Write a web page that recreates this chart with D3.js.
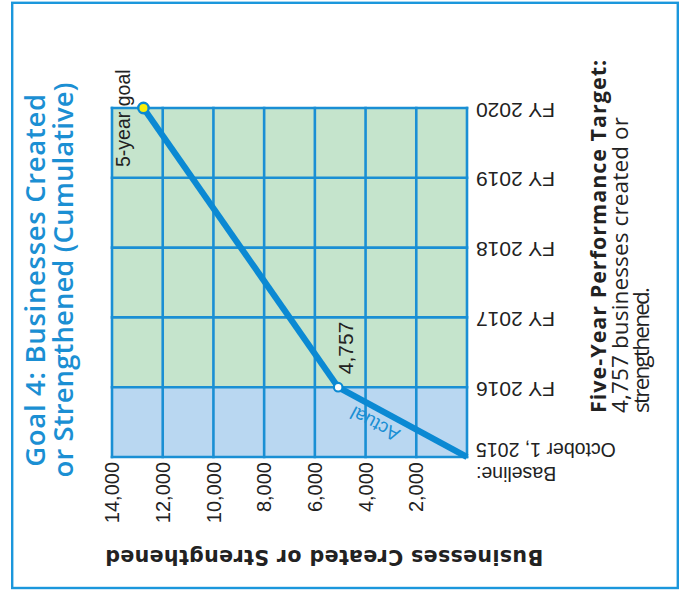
<!DOCTYPE html>
<html>
<head>
<meta charset="utf-8">
<script src="https://cdn.jsdelivr.net/npm/d3@7"></script>
<style>
  html, body { margin: 0; padding: 0; background: #fff; }
  svg { display: block; }
</style>
</head>
<body>
<svg id="chart" width="684" height="590"></svg>
<script>
// ---------------- data ----------------
const periods = ["Baseline", "FY 2016", "FY 2017", "FY 2018", "FY 2019", "FY 2020"];
const periodLabels = ["October 1, 2015", "FY 2016", "FY 2017", "FY 2018", "FY 2019", "FY 2020"];
const baselinePrefix = "Baseline:";
const valueTicks = [2000, 4000, 6000, 8000, 10000, 12000, 14000];
const actualPeriods = ["Baseline", "FY 2016"];
const actualValues = [0, 5080];
const goalPeriods = ["FY 2016", "FY 2020"];
const goalValues = [5080, 12760];
const actualLabel = "4,757";
const goalLabel = "5-year goal";
const titleLines = ["Goal 4: Businesses Created", "or Strengthened (Cumulative)"];
const axisTitle = "Businesses Created or Strengthened";
const targetLines = ["Five-Year Performance Target:", "4,757 businesses created or", "strengthened."];

// ---------------- layout ----------------
const BLUE = "#1a8fd4";
const svg = d3.select("#chart");

const x = d3.scaleLinear().domain([0, 14000]).range([467, 112]);
const y = d3.scalePoint().domain(periods).range([457, 108]);

function fit(sel, target) {
  sel.each(function () {
    const len = this.getComputedTextLength();
    const n = this.textContent.length;
    if (n > 1) d3.select(this).attr("letter-spacing", ((target - len) / (n - 1)).toFixed(2));
  });
}

// outer frame
svg.append("rect")
  .attr("x", 12.2).attr("y", 2.8).attr("width", 665.6).attr("height", 585.2)
  .attr("fill", "none").attr("stroke", "#1b97dc").attr("stroke-width", 2.4);

// row backgrounds
const rows = periods.slice(0, -1).map((p, i) => ({ from: p, to: periods[i + 1], i }));
svg.append("g").selectAll("rect").data(rows).join("rect")
  .attr("x", x(14000)).attr("width", x(0) - x(14000))
  .attr("y", d => y(d.to)).attr("height", d => y(d.from) - y(d.to))
  .attr("fill", d => d.i === 0 ? "#b9d7f1" : "#c5e4cc");

// grid
const grid = svg.append("g").attr("stroke", BLUE).attr("stroke-width", 2.6).attr("fill", "none");
grid.selectAll("line.v").data([0].concat(valueTicks)).join("line").attr("class", "v")
  .attr("x1", d => x(d)).attr("x2", d => x(d))
  .attr("y1", y(periods[0]) + 1.3).attr("y2", y(periods[periods.length - 1]) - 1.3);
grid.selectAll("line.h").data(periods).join("line").attr("class", "h")
  .attr("y1", d => y(d)).attr("y2", d => y(d))
  .attr("x1", x(14000) - 1.3).attr("x2", x(0) + 1.3);

// value tick labels (rotated)
svg.append("g").selectAll("text").data(valueTicks).join("text")
  .attr("transform", d => `translate(${x(d)},462) rotate(-90)`)
  .attr("text-anchor", "end").attr("dy", "0.36em")
  .attr("font-family", "Liberation Sans, Arial, sans-serif").attr("font-size", 20)
  .attr("fill", "#222")
  .text(d => d3.format(",")(d));

// period labels (upside down)
svg.append("g").selectAll("text").data(periods).join("text")
  .attr("transform", d => `translate(476,${y(d)}) rotate(180)`)
  .attr("text-anchor", "end")
  .attr("y", (d, i) => i === 0 ? 14 : 5.5)
  .attr("font-family", "Liberation Sans, Arial, sans-serif")
  .attr("font-size", (d, i) => i === 0 ? 19.5 : 21)
  .attr("fill", "#222")
  .text((d, i) => periodLabels[i]);
svg.append("text")
  .attr("transform", `translate(476,${y(periods[0])}) rotate(180)`)
  .attr("text-anchor", "end").attr("y", -9.5)
  .attr("font-family", "Liberation Sans, Arial, sans-serif").attr("font-size", 19.5)
  .attr("fill", "#222")
  .text(baselinePrefix);

// lines
const line = d3.line().x(d => x(d.v)).y(d => y(d.p));
const actualPts = actualPeriods.map((p, i) => ({ p, v: actualValues[i] }));
const goalPts = goalPeriods.map((p, i) => ({ p, v: goalValues[i] }));
svg.append("path").datum(goalPts).attr("d", line)
  .attr("fill", "none").attr("stroke", "#0b89d3").attr("stroke-width", 6.2).attr("stroke-linejoin", "round");
svg.append("path").datum(actualPts).attr("d", line)
  .attr("fill", "none").attr("stroke", "#0b89d3").attr("stroke-width", 6.2).attr("stroke-linejoin", "round");

// points
const pA = actualPts[actualPts.length - 1];
svg.append("circle").attr("cx", x(pA.v)).attr("cy", y(pA.p)).attr("r", 4.3)
  .attr("fill", "#fff").attr("stroke", "#0b89d3").attr("stroke-width", 2.2);
const pG = goalPts[goalPts.length - 1];
svg.append("circle").attr("cx", x(pG.v)).attr("cy", y(pG.p)).attr("r", 5.2)
  .attr("fill", "#f8ee0a").attr("stroke", "#0b89d3").attr("stroke-width", 2.4);

// point labels
svg.append("text")
  .attr("transform", `translate(${x(pA.v) + 15},${y(pA.p) - 13}) rotate(-90)`)
  .attr("font-family", "Liberation Sans, Arial, sans-serif").attr("font-size", 21)
  .attr("fill", "#222").text(actualLabel);
svg.append("text")
  .attr("transform", `translate(${x(pG.v) - 13},${y(pG.p) + 59}) rotate(-90)`)
  .attr("font-family", "Liberation Sans, Arial, sans-serif").attr("font-size", 19.5)
  .attr("fill", "#222").text(goalLabel);

// "Actual" along the actual segment
{
  const p0 = actualPts[0], p1 = actualPts[1];
  const x0 = x(p0.v), y0 = y(p0.p), x1 = x(p1.v), y1 = y(p1.p);
  const ang = Math.atan2(y0 - y1, x0 - x1);
  const t = 0.34, off = 15;
  const cx = x1 + t * (x0 - x1) - off * Math.sin(ang);
  const cy = y1 + t * (y0 - y1) + off * Math.cos(ang);
  svg.append("text")
    .attr("transform", `translate(${cx},${cy}) rotate(${ang * 180 / Math.PI + 180})`)
    .attr("text-anchor", "middle").attr("dy", "0.35em")
    .attr("font-family", "Liberation Sans, Arial, sans-serif").attr("font-size", 19)
    .attr("fill", "#1a8fd4").text("Actual");
}

// title
const title = svg.append("g").selectAll("text").data(titleLines).join("text")
  .attr("transform", (d, i) => `translate(${45 + i * 28},280) rotate(-90)`)
  .attr("text-anchor", "middle")
  .attr("font-family", "Open Sans, sans-serif").attr("font-weight", 600).attr("font-size", 27.5)
  .attr("fill", "#1b8fd3").text(d => d);
fit(title.filter((d, i) => i === 0), 373);
fit(title.filter((d, i) => i === 1), 395);

// axis title (upside down)
const at = svg.append("text")
  .attr("transform", "translate(324,550) rotate(180)")
  .attr("text-anchor", "middle")
  .attr("font-family", "DejaVu Sans, sans-serif").attr("font-weight", "bold").attr("font-size", 20.5)
  .attr("fill", "#222").text(axisTitle);
fit(at, 438);

// target block
const tb = svg.append("g").selectAll("text").data(targetLines).join("text")
  .attr("transform", (d, i) => `translate(${606 + i * 21.5},413) rotate(-90)`)
  .attr("font-family", "Open Sans, sans-serif")
  .attr("font-weight", (d, i) => i === 0 ? 700 : 400)
  .attr("font-size", (d, i) => i === 0 ? 21.5 : 22.5)
  .attr("fill", "#222").text(d => d);
const tbLens = [353, 296, 126];
tb.each(function (d, i) { fit(d3.select(this), tbLens[i]); });
</script>
</body>
</html>
